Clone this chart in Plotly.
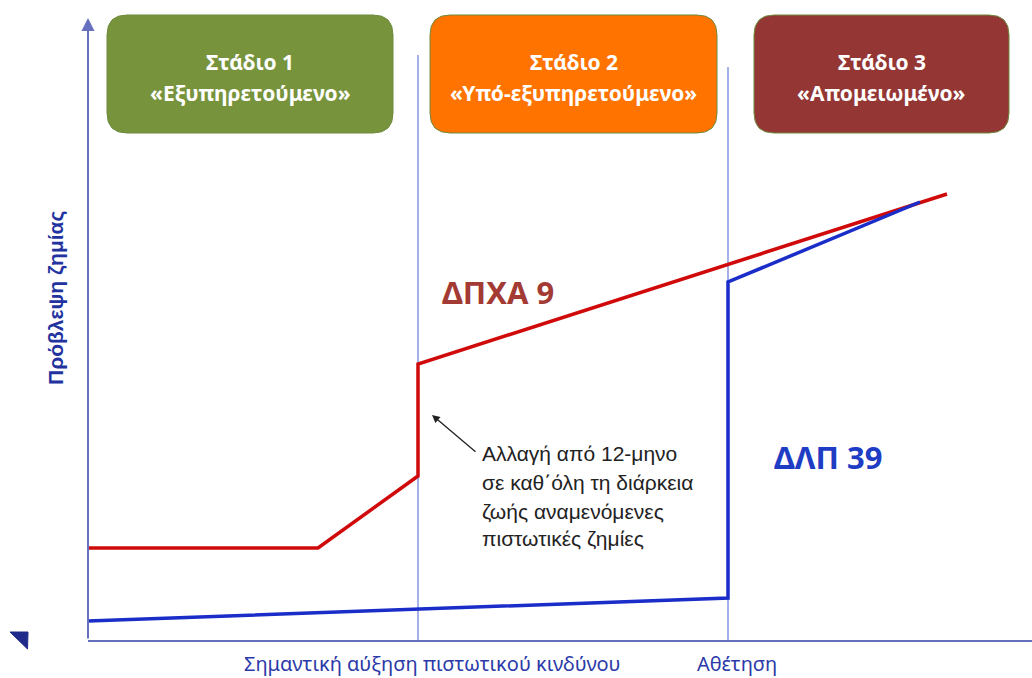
import plotly.graph_objects as go

# ---- data (units) ----
red_x = [0, 23, 33, 33, 85.9]
red_y = [9.2, 9.2, 16.4, 27.6, 44.6]
blue_x = [0, 64, 64, 83.2]
blue_y = [1.9, 4.2, 35.8, 43.8]
event_x = [33, 64]
event_labels = ["Σημαντική αύξηση πιστωτικού κινδύνου", "Αθέτηση"]
stage_titles = [["Στάδιο 1", "«Εξυπηρετούμενο»"], ["Στάδιο 2", "«Υπό-εξυπηρετούμενο»"], ["Στάδιο 3", "«Απομειωμένο»"]]
series_names = ["ΔΠΧΑ 9", "ΔΛΠ 39"]
note_lines = ["Αλλαγή από 12-μηνο", "σε καθ΄όλη τη διάρκεια", "ζωής αναμενόμενες", "πιστωτικές ζημίες"]
y_title = "Πρόβλεψη ζημίας"

# ---- layout constants ----
stage_boxes = [(1.9, 30.5), (34.2, 62.9), (66.6, 92.1)]
stage_colors = ["#77933C", "#FF7300", "#943634"]
box_y0, box_y1, r = 50.7, 62.5, 2.0

fig = go.Figure()
fig.add_trace(go.Scatter(x=red_x, y=red_y, mode="lines", line=dict(color="#D00A0A", width=3.5), name=series_names[0], hoverinfo="skip"))
fig.add_trace(go.Scatter(x=blue_x, y=blue_y, mode="lines", line=dict(color="#1A2DC8", width=3.5), name=series_names[1], hoverinfo="skip"))

def rrect(x0, x1, y0, y1, r):
    return (f"M{x0+r},{y0} L{x1-r},{y0} Q{x1},{y0} {x1},{y0+r} L{x1},{y1-r} Q{x1},{y1} {x1-r},{y1} "
            f"L{x0+r},{y1} Q{x0},{y1} {x0},{y1-r} L{x0},{y0+r} Q{x0},{y0} {x0+r},{y0} Z")

shapes = []
for (x0, x1), c in zip(stage_boxes, stage_colors):
    shapes.append(dict(type="path", path=rrect(x0, x1, box_y0, box_y1, r), xref="x", yref="y",
                       fillcolor=c, line=dict(color="#6E8B3D", width=1), layer="below"))
# event vertical lines
shapes.append(dict(type="line", xref="x", yref="y", x0=event_x[0], x1=event_x[0], y0=-1.1, y1=58.5,
                   line=dict(color="#8797E4", width=1.5), layer="below"))
shapes.append(dict(type="line", xref="x", yref="y", x0=event_x[1], x1=event_x[1], y0=0, y1=57.3,
                   line=dict(color="#8797E4", width=1.5), layer="below"))
# bottom-left small triangle
W, H = 944.0, 640.0
def px(xp): return (xp - 88) / W
def py(yp): return (640 - yp) / H
shapes.append(dict(type="path", xref="paper", yref="paper",
                   path=f"M{px(10)},{py(632)} L{px(28)},{py(632)} L{px(27.5)},{py(649)} Z",
                   fillcolor="#1F2A8A", line=dict(color="#1F2A8A", width=1)))

ann = []
for (x0, x1), lines in zip(stage_boxes, stage_titles):
    for i, t in enumerate(lines):
        ann.append(dict(x=(x0 + x1) / 2, y=[(640 - 62) / 10, (640 - 93) / 10][i], xref="x", yref="y",
                        text="<b>" + t + "</b>", showarrow=False,
                        font=dict(family="Noto Sans", size=21, color="white"), align="center"))
# y axis arrow
ann.append(dict(x=0, y=62.2, ax=0, ay=0, xref="x", yref="y", axref="x", ayref="y", text="", showarrow=True,
                arrowhead=2, arrowsize=1.3, arrowwidth=2, arrowcolor="#6670BF"))
# series labels
ann.append(dict(x=41.0, y=34.8, xref="x", yref="y", text="<b>" + series_names[0] + "</b>", showarrow=False,
                xanchor="center", font=dict(family="Noto Sans", size=31, color="#A33A34")))
ann.append(dict(x=74.0, y=18.3, xref="x", yref="y", text="<b>" + series_names[1] + "</b>", showarrow=False,
                xanchor="center", font=dict(family="Noto Sans", size=31, color="#1E3CC4")))
# note with arrow
for i, t in enumerate(note_lines):
    ann.append(dict(x=39.2, y=(640 - [453, 482, 511, 538][i]) / 10, xref="x", yref="y", text=t, showarrow=False,
                    xanchor="left", yanchor="middle",
                    font=dict(family="Liberation Sans", size=21, color="#222222")))
ann.append(dict(x=34.4, y=22.5, ax=38.9, ay=18.7, xref="x", yref="y", axref="x", ayref="y", text="",
                showarrow=True, arrowhead=2, arrowsize=1.2, arrowwidth=1.3, arrowcolor="#222222"))
# event labels
for ex, lab, sh in zip(event_x, event_labels, [14, 9]):
    ann.append(dict(x=ex, y=0, xref="x", yref="paper", text=lab, showarrow=False, yanchor="middle", yshift=-23,
                    xshift=sh, font=dict(family="Noto Sans", size=20, color="#2B3AA8")))
# y title
ann.append(dict(x=px(42), y=py(298), xref="paper", yref="paper", text="<b>" + y_title + "</b>", textangle=-90,
                showarrow=False, font=dict(family="Liberation Sans", size=21, color="#2233A0")))

fig.update_layout(
    width=1032, height=678, margin=dict(l=88, r=0, t=0, b=38),
    paper_bgcolor="white", plot_bgcolor="white", showlegend=False,
    shapes=shapes, annotations=ann,
    xaxis=dict(range=[0, 94.4], showgrid=False, zeroline=False, showticklabels=False, ticks="",
               showline=True, linecolor="#6670BF", linewidth=2),
    yaxis=dict(range=[0, 64], showgrid=False, zeroline=False, showticklabels=False, ticks="",
               showline=False),
)
fig.write_html("out.html")
